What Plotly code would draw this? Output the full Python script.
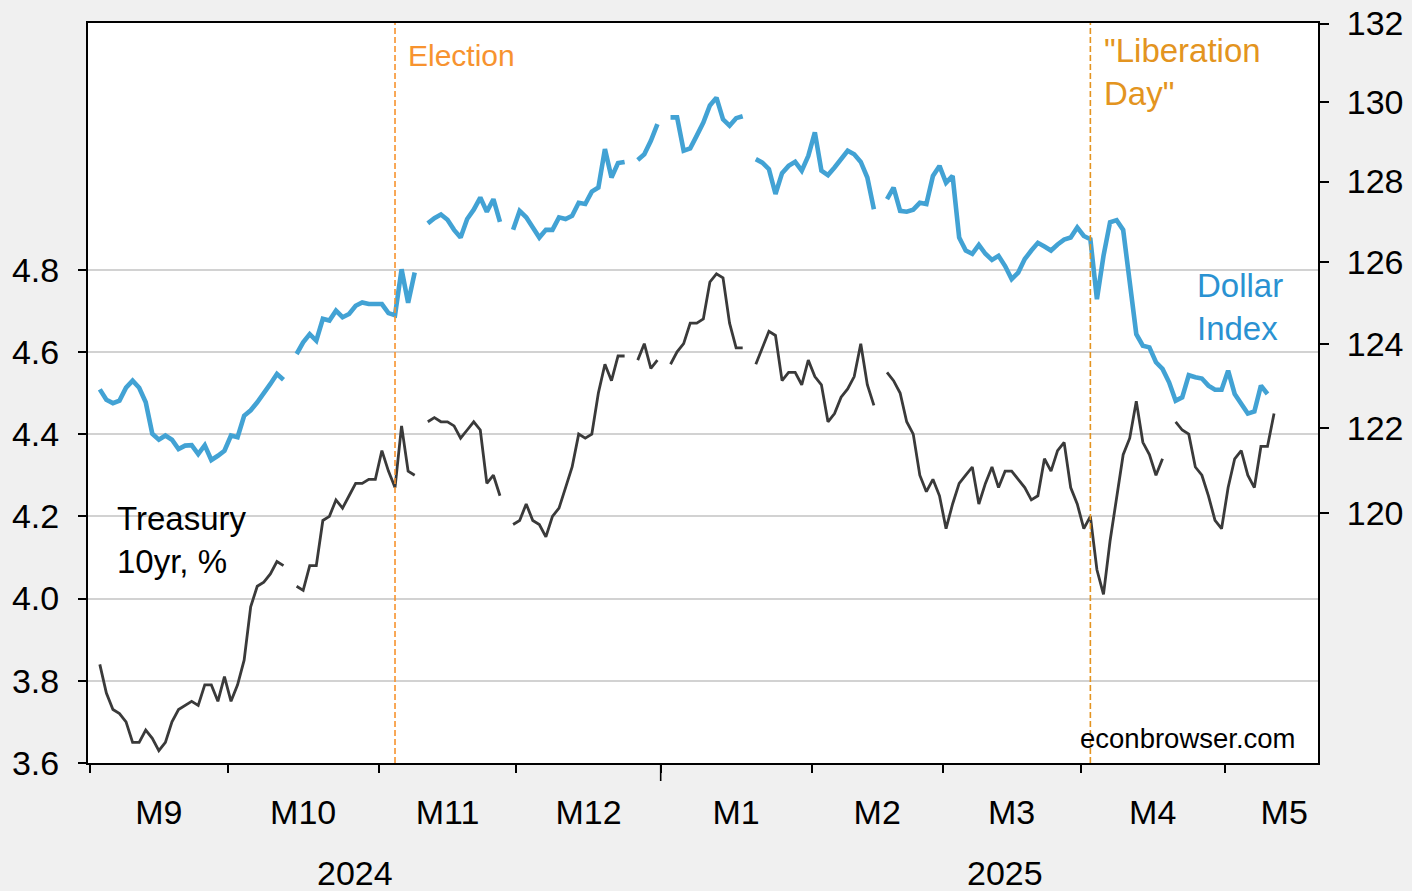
import numpy as np
import pandas as pd
import plotly.graph_objects as go

# --- DATA: daily (5-day week) series starting Mon 2024-09-02, None = no quote (holiday) ---
start_day = '2024-09-02'

treasury_10yr = [
    None, 3.84, 3.77, 3.73, 3.72, 3.70, 3.65, 3.65, 3.68, 3.66, 3.63, 3.65, 3.70, 3.73, 3.74, 3.75, 3.74, 3.79, 3.79, 3.75, 3.81,
    3.75, 3.79, 3.85, 3.98, 4.03, 4.04, 4.06, 4.09, 4.08, None, 4.03, 4.02, 4.08, 4.08, 4.19, 4.20, 4.24, 4.22, 4.25, 4.28, 4.28, 4.29, 4.29,
    4.36, 4.31, 4.27, 4.42, 4.31, 4.30, None, 4.43, 4.44, 4.43, 4.43, 4.42, 4.39, 4.41, 4.43, 4.41, 4.28, 4.30, 4.25, None, 4.18,
    4.19, 4.23, 4.19, 4.18, 4.15, 4.20, 4.22, 4.27, 4.32, 4.40, 4.39, 4.40, 4.50, 4.57, 4.53, 4.59, 4.59, None, 4.58, 4.62, 4.56, 4.58,
    None, 4.57, 4.60, 4.62, 4.67, 4.67, 4.68, 4.77, 4.79, 4.78, 4.67, 4.61, 4.61, None, 4.57, 4.61, 4.65, 4.64, 4.53, 4.55, 4.55, 4.52, 4.58,
    4.54, 4.52, 4.43, 4.45, 4.49, 4.51, 4.54, 4.62, 4.52, 4.47, None, 4.55, 4.53, 4.50, 4.43, 4.40, 4.30, 4.26, 4.29, 4.25,
    4.17, 4.23, 4.28, 4.30, 4.32, 4.23, 4.28, 4.32, 4.27, 4.31, 4.31, 4.29, 4.27, 4.24, 4.25, 4.34, 4.31, 4.36, 4.38, 4.27, 4.23,
    4.17, 4.20, 4.07, 4.01, 4.14, 4.25, 4.35, 4.39, 4.48, 4.38, 4.35, 4.30, 4.34, None, 4.43, 4.41, 4.40, 4.32, 4.30, 4.25, 4.19, 4.17,
    4.27, 4.34, 4.36, 4.30, 4.27, 4.37, 4.37, 4.45,
]

dollar_index = [
    None, 122.92, 122.67, 122.59, 122.65, 122.96, 123.13, 122.96, 122.61, 121.86, 121.72, 121.82, 121.72, 121.50, 121.58, 121.59,
    121.38, 121.59, 121.24, 121.34, 121.46,
    121.82, 121.78, 122.29, 122.42, 122.61, 122.81, 123.05, 123.29, 123.15, None, 123.77, 124.05, 124.25, 124.09, 124.62, 124.58,
    124.82, 124.66, 124.74, 124.94, 125.02, 124.98, 124.98,
    124.98, 124.76, 124.71, 125.83, 125.01, 125.75, None, 126.96, 127.09, 127.18, 127.05, 126.80, 126.61, 127.07, 127.30, 127.60,
    127.25, 127.56, 127.00, None, 126.80,
    127.27, 127.11, 126.86, 126.61, 126.80, 126.80, 127.11, 127.07, 127.15, 127.47, 127.44, 127.75, 127.85, 128.81, 128.10, 128.46,
    128.49, None, 128.54, 128.68, 129.02, 129.44,
    None, 129.61, 129.61, 128.77, 128.83, 129.15, 129.48, 129.91, 130.11, 129.56, 129.40, 129.59, 129.64, None, 128.56, 128.47,
    128.31, 127.69, 128.21, 128.39, 128.49, 128.27, 128.64,
    129.23, 128.27, 128.16, 128.35, 128.56, 128.77, 128.68, 128.49, 128.10, 127.31, None, 127.56, 127.85, 127.27, 127.25, 127.30,
    127.47, 127.44, 128.14, 128.39,
    127.97, 128.14, 126.61, 126.29, 126.21, 126.43, 126.21, 126.06, 126.16, 125.91, 125.59, 125.75, 126.08, 126.29, 126.48, 126.39,
    126.29, 126.44, 126.56, 126.61, 126.86,
    126.65, 126.57, 125.10, 126.16, 126.99, 127.04, 126.80, 125.51, 124.25, 123.97, 123.93, 123.57, 123.41, 123.09, 122.65, 122.73,
    123.26, 123.21, 123.18, 123.01, 122.91, 122.91,
    123.37, 122.81, 122.57, 122.34, 122.39, 123.01, 122.81, None,
]

events = [('2024-11-05', 'Election', '#f7932f'), ('2025-04-02', '"Liberation<br>Day"', '#e39420')]
left_ticks = [3.6, 3.8, 4.0, 4.2, 4.4, 4.6, 4.8]
right_ticks = [120, 122, 124, 126, 128, 130, 132]
right_range = [114.29, 132.015]   # dollar index on a log scale
year_labels = ['2024', '2025']
year_label_x = [40.4, 139.5]

# --- x positions: one slot per weekday, observation drawn in the slot centre ---
days = pd.bdate_range(start_day, periods=len(treasury_10yr))
x = np.arange(len(days)) + 0.5
x_range = [-0.3, 187.2]

cal = pd.bdate_range(start_day, periods=200)
month_start = [i for i in range(len(cal)) if i == 0 or cal[i].month != cal[i - 1].month]
month_start = [i for i in month_start if i < x_range[1]]
month_lab, month_pos = [], []
for j, i0 in enumerate(month_start):
    i1 = [i for i in range(len(cal)) if i > i0 and cal[i].month != cal[i0].month][0]
    full_mid = (i0 + i1) / 2
    vis_mid = (i0 + min(i1, x_range[1])) / 2
    month_pos.append((full_mid + vis_mid) / 2)
    month_lab.append(f'M{cal[i0].month}')
year_start = [i for i in month_start if cal[i].month == 1]

font_fam = 'Liberation Sans, Arial, sans-serif'
fig = go.Figure()

fig.add_trace(go.Scatter(x=x, y=treasury_10yr, mode='lines', name='Treasury 10yr',
    line=dict(color='#3a3a3a', width=2.8), connectgaps=False, yaxis='y'))
fig.add_trace(go.Scatter(x=x, y=dollar_index, mode='lines', name='Dollar Index',
    line=dict(color='#42a2d4', width=4.6), connectgaps=False, yaxis='y2'))

# event lines
for d, txt, col in events:
    xe = list(days).index(pd.Timestamp(d)) + 0.5
    fig.add_shape(type='line', xref='x', yref='paper', x0=xe, x1=xe, y0=0, y1=1,
        line=dict(color=col, width=1.6, dash='6px,3px'))

# longer tick at year boundary
for i in year_start:
    fig.add_shape(type='line', xref='x', yref='paper', x0=i, x1=i, y0=0, y1=-18 / 740,
        line=dict(color='black', width=1.6))

ann_font = dict(family=font_fam, size=33)
fig.add_annotation(x=48.2, y=5.32, text='Election', showarrow=False, xanchor='left', yanchor='middle',
    font=dict(ann_font, size=30, color='#f7932f'))
fig.add_annotation(x=154.3, y=5.282, text='"Liberation<br>Day"', showarrow=False, xanchor='left', yanchor='middle',
    align='left', font=dict(ann_font, color='#e39420'))
fig.add_annotation(x=168.4, y=4.709, text='Dollar<br>Index', showarrow=False, xanchor='left', yanchor='middle',
    align='left', font=dict(ann_font, color='#2a92d2'))
fig.add_annotation(x=3.8, y=4.142, text='Treasury<br>10yr, %', showarrow=False, xanchor='left', yanchor='middle',
    align='left', font=dict(ann_font, color='black'))
fig.add_annotation(x=184.1, y=3.66, text='econbrowser.com', showarrow=False, xanchor='right', yanchor='middle',
    font=dict(ann_font, size=27.5, color='black'))
for lab, xp in zip(year_labels, year_label_x):
    fig.add_annotation(x=xp, y=-0.148, yref='paper', text=lab, showarrow=False, xanchor='center', yanchor='middle',
        font=dict(ann_font, size=34, color='black'))

fig.update_layout(
    width=1412, height=891,
    paper_bgcolor='#f0f0f0', plot_bgcolor='white',
    margin=dict(l=88, r=94, t=23, b=128),
    showlegend=False,
    font=dict(family=font_fam, size=34, color='black'),
    xaxis=dict(range=x_range, tickvals=month_pos, ticktext=month_lab, ticks='', showgrid=False,
        showline=True, mirror=True, linecolor='black', linewidth=2, zeroline=False,
        ticklabelstandoff=18, automargin=False,
        minor=dict(tickvals=month_start, ticks='outside', ticklen=8, tickwidth=1.6, tickcolor='black', showgrid=False)),
    yaxis=dict(range=[3.6, 5.4], tickvals=left_ticks, tickformat='.1f', ticks='outside', ticklen=8, tickwidth=1.6,
        tickcolor='black', showgrid=True, gridcolor='#d2d2d2', gridwidth=1.6, zeroline=False,
        showline=True, mirror=True, linecolor='black', linewidth=2, ticklabelstandoff=12, automargin=False),
    yaxis2=dict(type='log', range=list(np.log10(right_range)), tickvals=right_ticks, ticktext=[str(t) for t in right_ticks],
        overlaying='y', side='right', ticks='outside', ticklen=10,
        tickwidth=1.6, tickcolor='black', showgrid=False, zeroline=False, showline=False, ticklabelstandoff=11,
        automargin=False),
)

fig.write_html('out.html', config={'displayModeBar': False},
               post_script="document.body.style.margin='0px';")
